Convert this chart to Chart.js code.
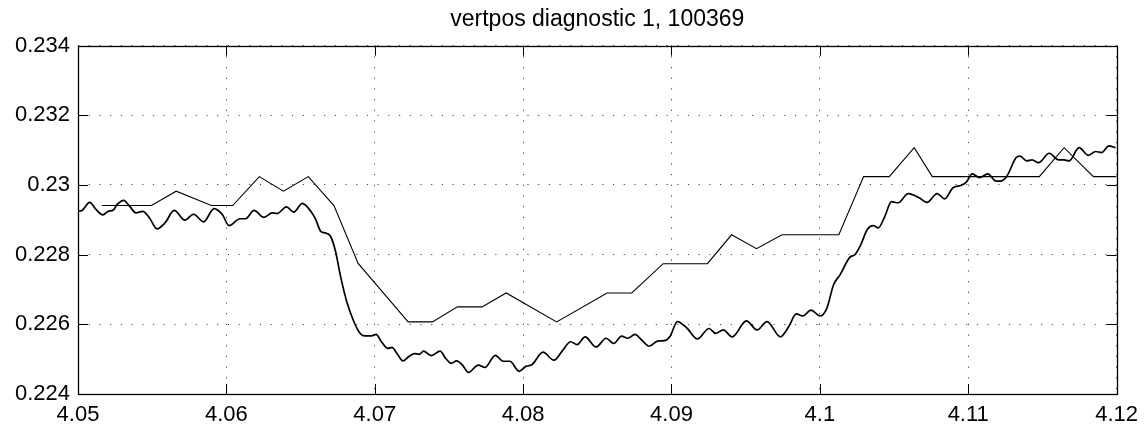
<!DOCTYPE html>
<html>
<head>
<meta charset="utf-8">
<script src="https://cdn.jsdelivr.net/npm/chart.js@4/dist/chart.umd.min.js"></script>
<style>
  html, body { margin: 0; padding: 0; background: #fff; }
  #wrap { width: 1146px; height: 425px; }
</style>
</head>
<body>
<div id="wrap"><canvas id="diag"></canvas></div>
<script>
// filtered vertical position signal (smooth, wiggly trace)
const wiggleX = [
  4.05000, 4.05027, 4.05079, 4.05123, 4.05168, 4.05206, 4.05235, 4.05264, 4.05309, 4.05347,
  4.05391, 4.05436, 4.05481, 4.05532, 4.05586, 4.05649, 4.05720, 4.05779, 4.05846, 4.05917,
  4.05973, 4.06018, 4.06092, 4.06130, 4.06186, 4.06253, 4.06309, 4.06342, 4.06405, 4.06454,
  4.06512, 4.06568, 4.06602, 4.06636, 4.06669, 4.06703, 4.06736, 4.06770, 4.06814, 4.06859,
  4.06893, 4.06933, 4.06978, 4.07009, 4.07045, 4.07089, 4.07116, 4.07150, 4.07190, 4.07228,
  4.07268, 4.07300, 4.07329, 4.07381, 4.07441, 4.07479, 4.07515, 4.07552, 4.07591, 4.07631,
  4.07698, 4.07743, 4.07812, 4.07866, 4.07911, 4.07973, 4.08022, 4.08056, 4.08134, 4.08208,
  4.08268, 4.08320, 4.08364, 4.08418, 4.08492, 4.08559, 4.08611, 4.08664, 4.08705, 4.08754,
  4.08799, 4.08850, 4.08906, 4.08951, 4.08991, 4.09040, 4.09107, 4.09174, 4.09253, 4.09297,
  4.09349, 4.09409, 4.09505, 4.09577, 4.09644, 4.09734, 4.09790, 4.09841, 4.09886, 4.09940,
  4.10002, 4.10047, 4.10092, 4.10136, 4.10203, 4.10237, 4.10271, 4.10320, 4.10360, 4.10394,
  4.10438, 4.10483, 4.10528, 4.10595, 4.10669, 4.10723, 4.10790, 4.10841, 4.10897, 4.10953,
  4.10987, 4.11027, 4.11076, 4.11132, 4.11188, 4.11215, 4.11260, 4.11322, 4.11349, 4.11394,
  4.11430, 4.11474, 4.11546, 4.11609, 4.11646, 4.11680, 4.11747, 4.11810, 4.11859, 4.11899,
  4.11948, 4.11993
];
const wiggleY = [
  0.22925, 0.22927, 0.22950, 0.22929, 0.22914, 0.22925, 0.22927, 0.22944, 0.22956, 0.22939,
  0.22920, 0.22924, 0.22906, 0.22874, 0.22891, 0.22927, 0.22899, 0.22916, 0.22894, 0.22932,
  0.22915, 0.22883, 0.22903, 0.22903, 0.22927, 0.22907, 0.22920, 0.22918, 0.22937, 0.22922,
  0.22947, 0.22925, 0.22901, 0.22867, 0.22862, 0.22852, 0.22809, 0.22737, 0.22661, 0.22608,
  0.22579, 0.22567, 0.22567, 0.22571, 0.22550, 0.22531, 0.22534, 0.22516, 0.22495, 0.22507,
  0.22516, 0.22514, 0.22523, 0.22510, 0.22523, 0.22502, 0.22488, 0.22495, 0.22483, 0.22462,
  0.22483, 0.22476, 0.22511, 0.22494, 0.22494, 0.22465, 0.22480, 0.22483, 0.22520, 0.22497,
  0.22526, 0.22550, 0.22542, 0.22564, 0.22535, 0.22560, 0.22545, 0.22566, 0.22560, 0.22571,
  0.22555, 0.22537, 0.22552, 0.22553, 0.22566, 0.22608, 0.22588, 0.22558, 0.22588, 0.22574,
  0.22584, 0.22564, 0.22610, 0.22584, 0.22608, 0.22564, 0.22593, 0.22630, 0.22624, 0.22641,
  0.22624, 0.22646, 0.22713, 0.22742, 0.22793, 0.22800, 0.22824, 0.22872, 0.22883, 0.22877,
  0.22910, 0.22952, 0.22949, 0.22975, 0.22963, 0.22950, 0.22975, 0.22960, 0.22992, 0.22999,
  0.23008, 0.23032, 0.23021, 0.23032, 0.23011, 0.23011, 0.23025, 0.23078, 0.23083, 0.23069,
  0.23072, 0.23064, 0.23091, 0.23072, 0.23072, 0.23069, 0.23107, 0.23085, 0.23096, 0.23093,
  0.23112, 0.23107
];

// raw diagnostic samples (quantised, piecewise-linear trace)
const stepX = [
  4.05160, 4.05495, 4.05662, 4.05899, 4.06043, 4.06222, 4.06385, 4.06552, 4.06725, 4.06888,
  4.07225, 4.07389, 4.07557, 4.07723, 4.07886, 4.08226, 4.08566, 4.08732, 4.08944, 4.09242,
  4.09405, 4.09573, 4.09745, 4.10128, 4.10295, 4.10468, 4.10636, 4.10758, 4.11479, 4.11646,
  4.11844, 4.12000
];
const stepY = [
  0.22941, 0.22941, 0.22982, 0.22941, 0.22941, 0.23024, 0.22982, 0.23024, 0.22941, 0.22775,
  0.22607, 0.22607, 0.22650, 0.22650, 0.22690, 0.22607, 0.22690, 0.22690, 0.22774, 0.22774,
  0.22857, 0.22817, 0.22857, 0.22857, 0.23024, 0.23024, 0.23107, 0.23024, 0.23024, 0.23107,
  0.23024, 0.23024
];

const xTicks = [4.05, 4.06, 4.07, 4.08, 4.09, 4.10, 4.11, 4.12];
const yTicks = [0.224, 0.226, 0.228, 0.230, 0.232, 0.234];

const FONT = 'Liberation Sans, Arial, Helvetica, sans-serif';

// trims trailing zeros like the usual plot labels ("4.1", "0.23")
const fmt = v => String(+(+v).toFixed(4));

// box around the plot area plus inward tick marks on all four sides
const frameTicks = {
  id: 'frameTicks',
  afterDraw(chart) {
    const { ctx, chartArea: a, scales: { x, y } } = chart;
    const len = 10;
    ctx.save();
    ctx.strokeStyle = '#000';
    ctx.lineWidth = 1;
    ctx.beginPath();
    for (const v of xTicks) {
      const px = Math.round(x.getPixelForValue(v)) + 0.5;
      ctx.moveTo(px, a.bottom); ctx.lineTo(px, a.bottom - len);
      ctx.moveTo(px, a.top); ctx.lineTo(px, a.top + len);
    }
    for (const v of yTicks) {
      const py = Math.round(y.getPixelForValue(v)) + 0.5;
      ctx.moveTo(a.left, py); ctx.lineTo(a.left + len, py);
      ctx.moveTo(a.right, py); ctx.lineTo(a.right - len, py);
    }
    ctx.stroke();
    ctx.lineWidth = 1.3;
    ctx.strokeRect(Math.round(a.left) + 0.5, Math.round(a.top) + 0.5,
      Math.round(a.right - a.left), Math.round(a.bottom - a.top));
    ctx.restore();
  },
};

const toPoints = (xs, ys) => xs.map((x, i) => ({ x, y: ys[i] }));

new Chart(document.getElementById('diag'), {
  type: 'line',
  data: {
    datasets: [
      {
        label: 'raw',
        data: toPoints(stepX, stepY),
        borderColor: '#000',
        borderWidth: 1.1,
        pointRadius: 0,
        tension: 0,
      },
      {
        label: 'filtered',
        data: toPoints(wiggleX, wiggleY),
        borderColor: '#000',
        borderWidth: 1.7,
        pointRadius: 0,
        cubicInterpolationMode: 'monotone',
      },
    ],
  },
  options: {
    responsive: true,
    maintainAspectRatio: false,
    animation: false,
    events: [],
    layout: { padding: { left: 0, right: 25, top: 0, bottom: 0 } },
    plugins: {
      legend: { display: false },
      tooltip: { enabled: false },
      title: {
        display: true,
        text: 'vertpos diagnostic 1, 100369',
        fullSize: false,
        color: '#000',
        font: { family: FONT, size: 23, weight: 'normal' },
        padding: { top: 6, bottom: 12 },
      },
    },
    scales: {
      x: {
        type: 'linear',
        min: 4.05,
        max: 4.12,
        afterBuildTicks: s => { s.ticks = xTicks.map(value => ({ value })); },
        afterFit: s => { s.height = 31; },
        grid: { color: '#444', lineWidth: 1, drawTicks: false },
        border: { display: false, dash: [1.2, 9.5] },
        ticks: {
          color: '#000',
          font: { family: FONT, size: 22 },
          padding: 8,
          maxRotation: 0,
          callback: fmt,
        },
      },
      y: {
        type: 'linear',
        min: 0.224,
        max: 0.234,
        afterBuildTicks: s => { s.ticks = yTicks.map(value => ({ value })); },
        afterFit: s => { s.width = 78; },
        grid: { color: '#444', lineWidth: 1, drawTicks: false },
        border: { display: false, dash: [1.2, 9.5] },
        ticks: {
          color: '#000',
          font: { family: FONT, size: 22 },
          padding: 8,
          callback: fmt,
        },
      },
    },
  },
  plugins: [frameTicks],
});
</script>
</body>
</html>
